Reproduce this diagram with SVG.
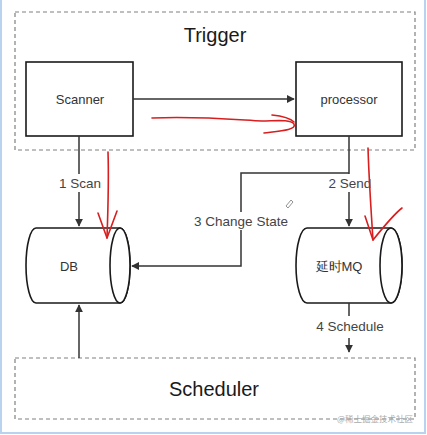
<svg xmlns="http://www.w3.org/2000/svg" width="427" height="435" viewBox="0 0 427 435">
<style>
.frame{fill:none;stroke:#b9d3ee;stroke-width:2}
.group{fill:none;stroke:#808080;stroke-width:1.2;stroke-dasharray:4 3}
.box{fill:#ffffff;stroke:#1a1a1a;stroke-width:1.6}
.edge{fill:none;stroke:#333333;stroke-width:1.5}
.red{fill:none;stroke:#d81e1e;stroke-width:1.6;stroke-linecap:round;stroke-linejoin:round}
.t{font-family:"Helvetica","Liberation Sans",Arial,sans-serif;fill:#333333;text-anchor:middle}
.title{font-size:20px;fill:#1a1a1a}
.lbl{font-size:13px}
.elbl{font-size:13.5px;fill:#444444}
.wm{font-family:"Noto Sans CJK SC",sans-serif;font-size:8.5px;fill:#aaaaaa}
</style>
<defs>
<marker id="arr" viewBox="0 0 10 10" refX="9" refY="5" markerWidth="8" markerHeight="8" markerUnits="userSpaceOnUse" orient="auto">
<path d="M0,0 L10,5 L0,10 Z" fill="#333333"/>
</marker>
</defs>
<rect x="1" y="-2" width="424" height="435" class="frame"/>
<g id="trigger">
<rect x="15" y="12" width="400" height="138" class="group"/>
<text x="215" y="42" class="t title">Trigger</text>
</g>
<g id="scheduler">
<rect x="15" y="358" width="400" height="61" class="group"/>
<text x="214" y="396" class="t title">Scheduler</text>
</g>
<g id="scanner">
<rect x="26" y="62" width="107" height="74" class="box"/>
<text x="80" y="104" class="t lbl">Scanner</text>
</g>
<g id="processor">
<rect x="296" y="62" width="106" height="74" class="box"/>
<text x="349" y="104" class="t lbl">processor</text>
</g>
<g id="db">
<path d="M36,228 L120,228 A10,37.5 0 0 1 120,303 L36,303 A10,37.5 0 0 1 36,228 Z" class="box"/>
<ellipse cx="120" cy="265.5" rx="10" ry="37.5" class="box"/>
<text x="69" y="271" class="t lbl">DB</text>
</g>
<g id="mq">
<path d="M307,228 L391,228 A11,37.5 0 0 1 391,303 L307,303 A11,37.5 0 0 1 307,228 Z" class="box"/>
<ellipse cx="391" cy="265.5" rx="11" ry="37.5" class="box"/>
<text x="339" y="271" class="t lbl" font-family="Liberation Sans,Noto Sans CJK SC,sans-serif">延时MQ</text>
</g>
<g id="connectors">
<path d="M133,99 L294,99" class="edge" marker-end="url(#arr)"/>
<path d="M79,136 L79,174" class="edge"/>
<path d="M79,192 L79,226" class="edge" marker-end="url(#arr)"/>
<text x="80" y="188" class="t elbl">1 Scan</text>
<path d="M349,136 L349,174" class="edge"/>
<path d="M349,192 L349,226" class="edge" marker-end="url(#arr)"/>
<text x="350" y="188" class="t elbl">2 Send</text>
<path d="M349,173 L241,173 L241,212" class="edge"/>
<path d="M241,230 L241,266 L132,266" class="edge" marker-end="url(#arr)"/>
<text x="241" y="226" class="t elbl">3 Change State</text>
<path d="M79,358 L79,305" class="edge" marker-end="url(#arr)"/>
<path d="M349,303 L349,316" class="edge"/>
<path d="M349,338 L349,352" class="edge" marker-end="url(#arr)"/>
<text x="350" y="331" class="t elbl">4 Schedule</text>
</g>
<g id="annotations">
<path d="M152,118 C200,116 240,120 262,121 C275,121 290,119 294,124 C297,130 280,131 264,133" class="red"/>
<path d="M272,115 C282,116 290,118 294,122" class="red"/>
<path d="M108,152 C109,180 108,210 107,238" class="red"/>
<path d="M98,213 L107,238 L117,211" class="red"/>
<path d="M368,148 C369,180 371,210 373,240" class="red"/>
<path d="M365,216 L373,240 C385,225 393,215 402,208" class="red"/>
<path d="M286,206 L291,200 L293,202 L288,208 Z" fill="none" stroke="#777777" stroke-width="0.8"/>
</g>
<text x="375" y="422" class="wm" text-anchor="middle">@稀土掘金技术社区</text>
</svg>
